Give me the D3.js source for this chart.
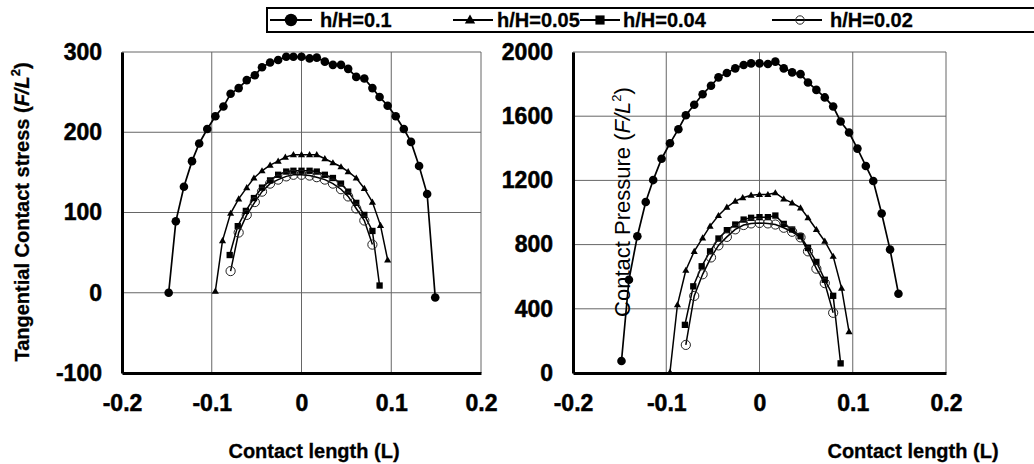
<!DOCTYPE html>
<html>
<head>
<meta charset="utf-8">
<script src="https://cdn.jsdelivr.net/npm/d3@7"></script>
<style>
  body { margin: 0; background: #fff; }
  svg { display: block; }
  text { font-family: "Liberation Sans", Arial, sans-serif; font-weight: bold; fill: #000; }
</style>
</head>
<body>
<div class="chart"></div>
<script>
// series x positions (contact length)
var x01 = [-0.148,-0.140,-0.131,-0.122,-0.114,-0.105,-0.096,-0.087,-0.079,-0.070,-0.061,-0.052,-0.044,-0.035,-0.026,-0.017,-0.009,0,
           0.009,0.017,0.026,0.035,0.044,0.052,0.061,0.070,0.079,0.087,0.096,0.105,0.114,0.122,0.131,0.140,0.149];
var x005 = [-0.096,-0.088,-0.079,-0.070,-0.061,-0.053,-0.044,-0.035,-0.026,-0.018,-0.009,0,
            0.009,0.017,0.026,0.035,0.044,0.052,0.061,0.070,0.079,0.088,0.096];
var x004 = [-0.080,-0.071,-0.062,-0.053,-0.044,-0.035,-0.026,-0.017,-0.009,0,
            0.009,0.017,0.026,0.035,0.044,0.052,0.061,0.070,0.079,0.087];
var x002 = [-0.079,-0.070,-0.061,-0.052,-0.044,-0.035,-0.026,-0.017,-0.009,0,
            0.009,0.017,0.026,0.035,0.044,0.052,0.061,0.070,0.079];

// tangential contact stress
var tau01 = [0,89,132,164,186,204,220,232,248,255,265,271,281,287,290,294,294,294,292,293,288,284,284,279,269,267,255,244,233,220,204,188,158,123,-6];
var tau005 = [2,65,99,117,131,143,152,159,164,169,172,172,172,172,167,162,157,151,143,130,113,84,41];
var tau004 = [47,83,102,118,131,140,147,151,152,152,152,151,147,143,136,126,112,97,77,9];
var tau002 = [27,75,97,113,126,136,141,145,147,147,146,144,141,136,129,120,105,90,60];

// contact pressure
var p01 = [75,581,852,1065,1202,1335,1431,1519,1606,1671,1737,1790,1842,1869,1898,1919,1929,1929,1925,1940,1898,1873,1862,1810,1764,1717,1660,1567,1498,1398,1290,1196,994,769,494];
var p005 = [5,425,640,758,842,915,981,1033,1071,1092,1108,1112,1112,1123,1085,1060,1029,967,894,821,727,529,258];
var p004 = [300,540,665,758,838,890,925,956,967,971,971,981,929,894,852,779,692,581,481,60];
var p002 = [175,480,615,720,795,848,895,922,932,935,932,925,905,880,845,758,650,560,375];

var seriesNames = ["h/H=0.1","h/H=0.05","h/H=0.04","h/H=0.02"];
var markers = ["circle","triangle","square","open"];
var xTicks = [-0.2,-0.1,0,0.1,0.2];
var tauTicks = [-100,0,100,200,300];
var pTicks = [0,400,800,1200,1600,2000];

var W = 1034, H = 464;
var svg = d3.select(".chart").append("svg").attr("width", W).attr("height", H);

function zip(xs, ys) { return xs.map(function(x, i) { return {x: x, y: ys[i]}; }); }
function plain(d) { return String(d); } // hyphen minus like the original

// a hairline stroke makes the bold text as heavy as in the scan
function heavy(sel, w) { return sel.style("stroke", "#000").style("stroke-width", w || 0.45); }

function drawMarker(g, kind, px, py, big) {
  var k = big ? 1.45 : 1;
  if (kind == "circle") {
    g.append("circle").attr("cx", px).attr("cy", py).attr("r", 4.3 * k).style("fill", "#000");
  } else if (kind == "open") {
    g.append("circle").attr("cx", px).attr("cy", py).attr("r", big ? 4.2 : 4.6)
      .style("fill", "none").style("stroke", "#222").style("stroke-width", 1);
  } else {
    var t = kind == "triangle" ? d3.symbolTriangle : d3.symbolSquare;
    var sz = kind == "triangle" ? 22 : 40;
    g.append("path").attr("d", d3.symbol().type(t).size(sz * k * k)())
      .attr("transform", "translate(" + px + "," + (py + (kind == "triangle" ? 0.5 : 0)) + ")")
      .style("fill", "#000");
  }
}

function styleAxis(a) {
  a.attr("font-family", null).attr("font-size", null);
  a.select(".domain").style("stroke", "#000").style("stroke-width", 3);
  heavy(a.selectAll("text")
    .attr("font-family", "Liberation Sans, Arial, sans-serif")
    .style("font-weight", "bold").style("font-size", "23px"), 0.5);
}

function panel(opt) {
  var x = d3.scaleLinear().domain([-0.2, 0.2]).range([opt.left, opt.right]);
  var y = d3.scaleLinear().domain(opt.yDomain).range([opt.bottom, opt.top]);
  var g = svg.append("g");

  // grid
  g.selectAll(".vg").data(xTicks).enter().append("line")
    .attr("x1", function(d) { return x(d); }).attr("x2", function(d) { return x(d); })
    .attr("y1", opt.top).attr("y2", opt.bottom)
    .style("stroke", "#666").style("stroke-width", 1);
  g.selectAll(".hg").data(opt.yTicks).enter().append("line")
    .attr("x1", opt.left).attr("x2", opt.right)
    .attr("y1", function(d) { return y(d); }).attr("y2", function(d) { return y(d); })
    .style("stroke", "#666").style("stroke-width", 1);

  // thick left and bottom axes
  var xa = g.append("g").attr("transform", "translate(0," + opt.bottom + ")")
    .call(d3.axisBottom(x).tickValues(xTicks).tickSize(0).tickPadding(22).tickFormat(plain));
  styleAxis(xa);

  var ya = g.append("g").attr("transform", "translate(" + opt.left + ",0)")
    .call(d3.axisLeft(y).tickValues(opt.yTicks).tickSize(0).tickPadding(opt.left - opt.labelRight).tickFormat(plain));
  styleAxis(ya);

  var line = d3.line().x(function(d) { return x(d.x); }).y(function(d) { return y(d.y); });
  opt.series.forEach(function(s, i) {
    var pts = zip(s.xs, s.ys);
    g.append("path").attr("d", line(pts))
      .style("fill", "none").style("stroke", "#000").style("stroke-width", i == 0 ? 1.7 : 1.5);
    pts.forEach(function(p) { drawMarker(g, markers[i], x(p.x), y(p.y), false); });
  });

  // y title
  var yt = svg.append("text")
    .attr("transform", "translate(" + opt.titleX + "," + opt.titleY + ") rotate(-90)")
    .attr("text-anchor", "middle").style("font-size", opt.titleSize).style("font-weight", opt.titleWeight);
  if (opt.titleWeight == "bold") heavy(yt, 0.3);
  yt.append("tspan").text(opt.yTitle + " (");
  yt.append("tspan").style("font-style", "italic").text("F/L");
  yt.append("tspan").attr("dy", -9).style("font-size", "13px").text("2");
  yt.append("tspan").attr("dy", 9).text(")");

  heavy(svg.append("text").attr("x", opt.xTitleX).attr("y", 458)
    .attr("text-anchor", "middle").style("font-size", "20px").text("Contact length (L)"), 0.3);
}

panel({
  left: 122, right: 481, top: 52, bottom: 373, labelRight: 102,
  yDomain: [-100, 300], yTicks: tauTicks,
  series: [{xs: x01, ys: tau01}, {xs: x005, ys: tau005}, {xs: x004, ys: tau004}, {xs: x002, ys: tau002}],
  yTitle: "Tangential Contact stress", titleX: 29, titleY: 212, titleWeight: "bold", titleSize: "20px", xTitleX: 314
});
panel({
  left: 573, right: 946, top: 52, bottom: 373, labelRight: 553,
  yDomain: [0, 2000], yTicks: pTicks,
  series: [{xs: x01, ys: p01}, {xs: x005, ys: p005}, {xs: x004, ys: p004}, {xs: x002, ys: p002}],
  yTitle: "Contact Pressure", titleX: 630, titleY: 202, titleWeight: "normal", titleSize: "22px", xTitleX: 913
});

// legend
var lg = svg.append("g");
lg.append("rect").attr("x", 267).attr("y", 8).attr("width", 800).attr("height", 24)
  .style("fill", "#fff").style("stroke", "#000").style("stroke-width", 2);
var legendPos = [{l0: 270, l1: 312, m: 291, t: 320}, {l0: 453, l1: 493, m: 470, t: 497},
                 {l0: 580, l1: 620, m: 600, t: 623}, {l0: 772, l1: 822, m: 800, t: 830}];
seriesNames.forEach(function(n, i) {
  var p = legendPos[i];
  lg.append("line").attr("x1", p.l0).attr("x2", p.l1).attr("y1", 20).attr("y2", 20)
    .style("stroke", "#000").style("stroke-width", 2);
  drawMarker(lg, markers[i], p.m, 20, true);
  heavy(lg.append("text").attr("x", p.t).attr("y", 27).style("font-size", "20px").text(n), 0.3);
});
</script>
</body>
</html>
